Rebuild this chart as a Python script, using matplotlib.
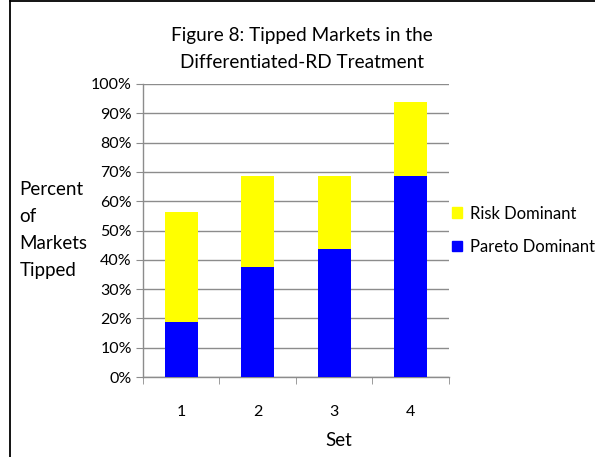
import matplotlib
matplotlib.use("Agg")
import matplotlib.pyplot as plt
from matplotlib.lines import Line2D
from matplotlib.patches import Patch

plt.rcParams["font.family"] = ["Lato", "DejaVu Sans"]

sets = ["1", "2", "3", "4"]
pareto = [18.75, 37.5, 43.75, 68.75]
risk = [37.5, 31.25, 25.0, 25.0]
yticks = [0, 10, 20, 30, 40, 50, 60, 70, 80, 90, 100]

C_PARETO = "#0000ff"
C_RISK = "#ffff00"
C_GRID = "#8c8c8c"

fig = plt.figure(figsize=(5.95, 4.57), dpi=100)
ax = fig.add_axes([0.2403, 0.175, 0.5143, 0.6412])

x = list(range(1, len(sets) + 1))
ax.bar(x, pareto, width=0.43, color=C_PARETO, zorder=3, label="Pareto Dominant")
ax.bar(x, risk, width=0.43, bottom=pareto, color=C_RISK, zorder=3, label="Risk Dominant")

ax.set_xlim(0.5, 4.5)
ax.set_ylim(0, 100)
ax.set_yticks(yticks)
ax.set_yticklabels([f"{v}%" for v in yticks])
ax.yaxis.grid(True, color=C_GRID, lw=1.0, zorder=0)
ax.set_axisbelow(True)

ax.set_xticks(x)
ax.set_xticklabels(sets)
ax.set_xticks([0.5, 1.5, 2.5, 3.5, 4.5], minor=True)
ax.tick_params(axis="x", which="major", length=0, pad=20, labelsize=11.5)
ax.tick_params(axis="x", which="minor", length=5, color=C_GRID, direction="out")
ax.tick_params(axis="y", length=5, color=C_GRID, direction="out", labelsize=11.5, pad=3)

for s in ("top", "right"):
    ax.spines[s].set_visible(False)
for s in ("left", "bottom"):
    ax.spines[s].set_color(C_GRID)
    ax.spines[s].set_linewidth(1.0)

fig.text(0.508, 0.923, "Figure 8: Tipped Markets in the", ha="center", va="center", fontsize=13.7)
fig.text(0.508, 0.864, "Differentiated-RD Treatment", ha="center", va="center", fontsize=13.7)
fig.text(0.57, 0.037, "Set", ha="center", va="center", fontsize=13.5)
fig.text(0.033, 0.497, "Percent\nof\nMarkets\nTipped", ha="left", va="center",
         fontsize=13.5, linespacing=1.72)

handles = [Patch(color=C_RISK), Patch(color=C_PARETO)]
fig.legend(handles, ["Risk Dominant", "Pareto Dominant"], loc="center left",
           bbox_to_anchor=(0.735, 0.496), frameon=False, fontsize=12,
           handlelength=0.6, handleheight=0.6, handletextpad=0.45, labelspacing=1.05)

# chart frame (only left and top edges fall inside the image)
fig.add_artist(Line2D([0.016, 0.016], [0, 0.997], color="black", lw=1.3, transform=fig.transFigure))
fig.add_artist(Line2D([0.016, 1.0], [0.997, 0.997], color="black", lw=1.3, transform=fig.transFigure))

fig.savefig("out.png", dpi=100)
